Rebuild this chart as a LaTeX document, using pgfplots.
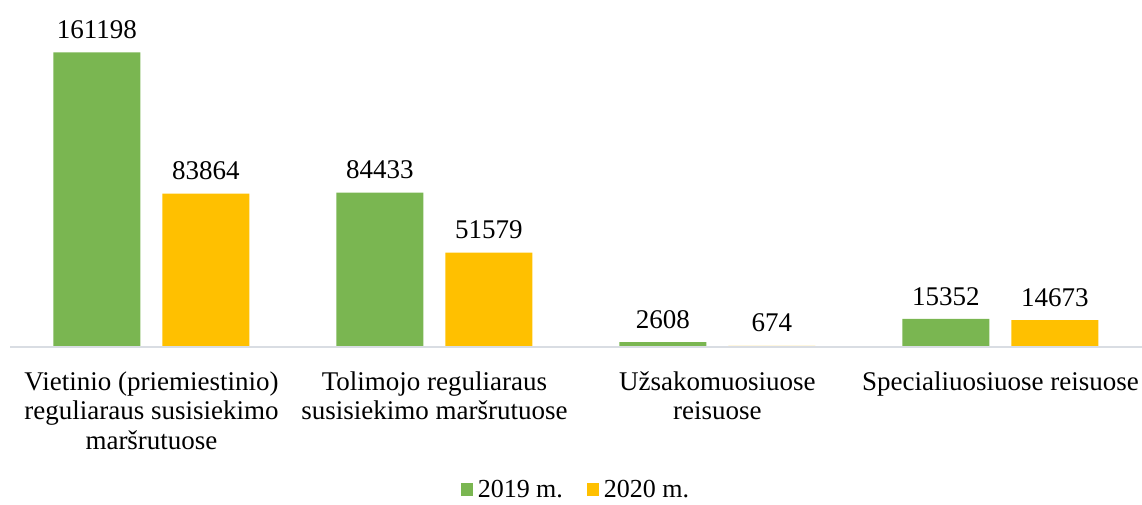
\documentclass[border=0pt]{standalone}
\usepackage{pgfplots}
\pgfplotsset{compat=1.18}
\usepackage{fontspec}
\setmainfont{Liberation Serif}
\definecolor{cg}{HTML}{7AB651}
\definecolor{cy}{HTML}{FFC000}
\definecolor{axc}{HTML}{D9DDE3}
\begin{document}
\begin{tikzpicture}[x=1pt,y=1pt]
\path[use as bounding box] (0,0) rectangle (1142,504);
\begin{axis}[
  at={(10pt,157pt)}, anchor=south west,
  scale only axis, width=1132pt, height=329pt,
  xmin=-0.5, xmax=3.5, ymin=0, ymax=180000,
  ybar, bar width=87pt, axis on top,
  axis x line*=bottom, axis y line=none,
  axis line style={draw=axc, line width=1.4pt},
  xtick={0,1,2,3},
  xticklabels={{Vietinio (priemiestinio)\\reguliaraus susisiekimo\\maršrutuose},
               {Tolimojo reguliaraus\\susisiekimo maršrutuose},
               {Užsakomuosiuose\\reisuose},
               {Specialiuosiuose reisuose}},
  major tick length=0pt,
  xticklabel style={font=\fontsize{27}{29.5}\selectfont, align=flush center, text width=290pt, anchor=north, yshift=-21pt},
  point meta=explicit symbolic,
  nodes near coords,
  every node near coord/.append style={font=\fontsize{27}{29.5}\selectfont, anchor=south, yshift=10pt, text=black},
  legend style={at={(0.5,-0.434)}, anchor=center, draw=none, legend columns=2,
     font=\fontsize{26}{29.5}\selectfont,
     /tikz/every odd column/.append style={column sep=3pt},
     /tikz/every even column/.append style={column sep=22pt}},
  legend image code/.code={\path[#1,draw=none] (0pt,-6pt) rectangle (12pt,7pt);},
]
\addplot[fill=cg, draw=none, bar shift=-54.5pt] coordinates {(0,161198) [161198] (1,84433) [84433] (2,2608) [2608] (3,15352) [15352]};
\addplot[fill=cy, draw=none, bar shift=54.5pt] coordinates {(0,83864) [83864] (1,51579) [51579] (2,674) [674] (3,14673) [14673]};
\legend{2019 m.,2020 m.}
\end{axis}
\end{tikzpicture}
\end{document}
